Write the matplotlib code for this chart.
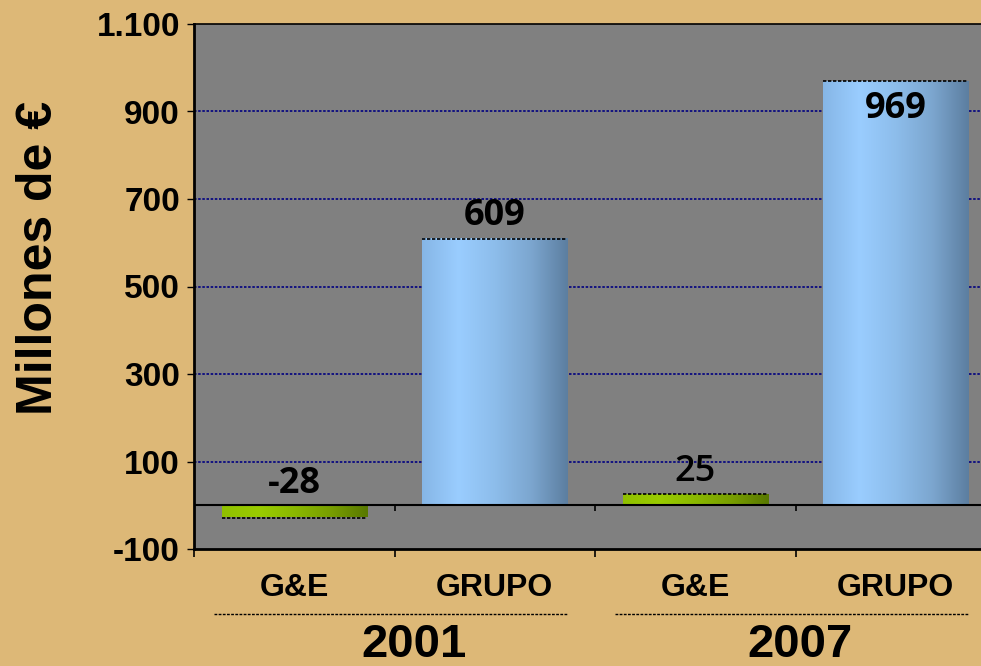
import matplotlib
matplotlib.use('Agg')
import matplotlib.pyplot as plt
import numpy as np
from matplotlib.colors import LinearSegmentedColormap
from matplotlib.ticker import FuncFormatter
from matplotlib.transforms import blended_transform_factory

# Datos
anios = ['2001', '2007']
categorias = ['G&E', 'GRUPO', 'G&E', 'GRUPO']
valores = [-28, 609, 25, 969]
etiquetas = ['-28', '609', '25', '969']
tipo = ['ge', 'grupo', 'ge', 'grupo']

BG = '#DDB877'
fig = plt.figure(figsize=(9.81, 6.66), dpi=100, facecolor=BG)
ax = fig.add_axes([194/981, 117/666, 802/981, 525/666])
ax.set_facecolor('#808080')

cmaps = {
    'grupo': LinearSegmentedColormap.from_list('azul', ['#86B6E6', '#9ACDFF', '#8DBDEB', '#7CA6CF', '#5C7EA0']),
    'ge': LinearSegmentedColormap.from_list('verde', ['#90C000', '#9ACC00', '#8AB800', '#789E00', '#587800']),
}
grad = np.linspace(0, 1, 256).reshape(1, -1)
ancho = 0.725

for i, v in enumerate(valores):
    x0, x1 = i - ancho/2, i + ancho/2
    ax.imshow(grad, cmap=cmaps[tipo[i]], extent=[x0, x1, min(0, v), max(0, v)],
              aspect='auto', zorder=2, interpolation='bilinear')
    ax.plot([x0, x1], [v, v], color='black', lw=1.2, ls=(0, (2, 1)), zorder=3)

# Etiquetas de valor
for i, v in enumerate(valores):
    if v > 900:
        y, va = v - 22, 'top'
    elif v < 0:
        y, va = 8, 'bottom'
    else:
        y, va = v + 10, 'bottom'
    peso = 'semibold' if tipo[i] == 'ge' and v > 0 else 'bold'
    ax.text(i, y, etiquetas[i], ha='center', va=va, fontsize=26, family='Open Sans',
            fontweight=peso, color='black', zorder=4)

ax.set_xlim(-0.5, 3.5)
ax.set_ylim(-100, 1100)

# Rejilla y ejes
for g in range(100, 1000, 200):
    ax.axhline(g, color='#000080', lw=1.2, ls=(0, (1.5, 1)), zorder=1)
ax.axhline(0, color='black', lw=1.5, zorder=3)
ax.spines['top'].set_linestyle((0, (2, 1)))
ax.spines['top'].set_linewidth(1.2)
ax.spines['right'].set_visible(False)
ax.spines['left'].set_linewidth(2)
ax.spines['bottom'].set_linewidth(2)

ax.set_yticks(np.arange(-100, 1101, 200))
ax.yaxis.set_major_formatter(FuncFormatter(lambda v, p: f'{v:,.0f}'.replace(',', '.')))
ax.tick_params(axis='y', labelsize=24, length=5, width=1, pad=5)
for t in ax.get_yticklabels():
    t.set_fontweight('heavy')
    t.set_family('Liberation Sans')

bordes = np.arange(len(categorias)) - 0.5
ax.set_xticks(bordes)
ax.set_xticklabels([])
ax.tick_params(axis='x', length=6, width=1.2, direction='out')
ax.vlines(bordes, 0, -14, color='black', lw=1.2, zorder=3)

ax.set_ylabel('Millones de €', fontsize=36, fontweight='bold', family='Liberation Sans')
ax.yaxis.set_label_coords(-0.164, 0.554)

# Etiquetas de categoría y año
tr = blended_transform_factory(ax.transData, ax.transAxes)
for i, c in enumerate(categorias):
    ax.text(i, -0.075, c, transform=tr, ha='center', va='center', fontsize=23,
            fontweight='bold', family='Liberation Sans', clip_on=False)
pos_anio = [0.6, 2.52]
for k, a in enumerate(anios):
    c = 2*k + 0.5
    ax.plot([c - 0.9, c + 0.86], [-0.124, -0.124], transform=tr, color='black', lw=1,
            ls=(0, (2, 1)), clip_on=False)
    ax.text(pos_anio[k], -0.205, a, transform=tr, ha='center', va='baseline', fontsize=34,
            fontweight='bold', family='Liberation Sans', clip_on=False)

fig.savefig('out.png', dpi=100, facecolor=BG)
